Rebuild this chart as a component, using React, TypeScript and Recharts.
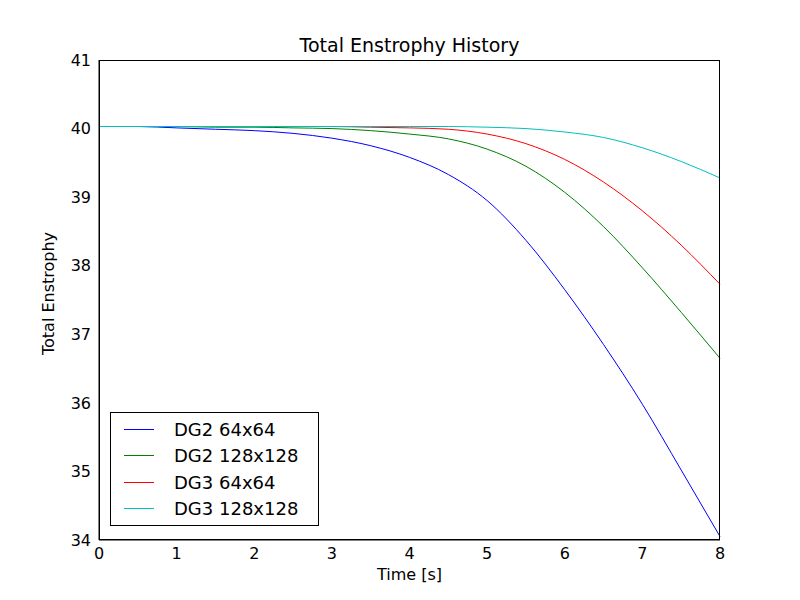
import { LineChart, Line, XAxis, YAxis } from 'recharts';

const times = [0, 0.5, 1, 1.5, 2, 2.5, 3, 3.5, 4, 4.5, 5, 5.5, 6, 6.5, 7, 7.5, 8];
const dg2_64 = [40.03, 40.03, 40.01, 39.99, 39.97, 39.93, 39.86, 39.75, 39.58, 39.33, 38.95, 38.37, 37.65, 36.85, 35.98, 35.02, 34.05];
const dg2_128 = [40.03, 40.03, 40.03, 40.02, 40.02, 40.01, 40.0, 39.97, 39.92, 39.85, 39.7, 39.45, 39.07, 38.57, 37.97, 37.32, 36.65];
const dg3_64 = [40.03, 40.03, 40.03, 40.03, 40.03, 40.03, 40.03, 40.02, 40.01, 39.99, 39.92, 39.78, 39.55, 39.22, 38.8, 38.3, 37.73];
const dg3_128 = [40.03, 40.03, 40.03, 40.03, 40.03, 40.03, 40.03, 40.03, 40.03, 40.03, 40.02, 40.0, 39.95, 39.87, 39.72, 39.52, 39.28];
const xTicks = [0, 1, 2, 3, 4, 5, 6, 7, 8];
const yTicks = [34, 35, 36, 37, 38, 39, 40, 41];

const series = [
  { key: 'a', name: 'DG2 64x64', color: '#0000ff' },
  { key: 'b', name: 'DG2 128x128', color: '#008000' },
  { key: 'c', name: 'DG3 64x64', color: '#ff0000' },
  { key: 'd', name: 'DG3 128x128', color: '#00bfbf' },
];

const data = times.map((t, i) => ({ t, a: dg2_64[i], b: dg2_128[i], c: dg3_64[i], d: dg3_128[i] }));

const font = 'DejaVu Sans, sans-serif';

function LegendBox() {
  return (
    <div style={{ position: 'absolute', left: 110, top: 412, border: '1px solid #000', background: '#fff', width: 207, padding: '3px 0', fontFamily: font, fontSize: 18 }}>
      {series.map((s) => (
        <div key={s.key} style={{ display: 'flex', alignItems: 'center', height: 26.5 }}>
          <div style={{ width: 30, height: 0, borderTop: `1px solid ${s.color}`, margin: '0 20px 0 13px' }} />
          <span>{s.name}</span>
        </div>
      ))}
    </div>
  );
}

export default function App() {
  const tick = { fill: '#000', fontSize: 16, fontFamily: font };
  return (
    <div style={{ margin: -8, width: 800, height: 600, background: '#fff', position: 'relative' }}>
      <div style={{ position: 'absolute', top: 34, left: 99, width: 621, textAlign: 'center', fontFamily: font, fontSize: 19 }}>
        Total Enstrophy History
      </div>
      <LineChart width={800} height={600} data={data} margin={{ top: 60, right: 80, bottom: 0, left: 0 }}>
        <XAxis dataKey="t" type="number" domain={[0, 8]} ticks={xTicks} tick={tick} tickLine={false} axisLine={{ stroke: '#000' }} height={60}
          label={{ value: 'Time [s]', position: 'insideBottom', offset: 20, fill: '#000', fontSize: 16, fontFamily: font }} />
        <YAxis domain={[34, 41]} ticks={yTicks} tick={tick} tickLine={false} axisLine={{ stroke: '#000' }} width={99}
          label={{ value: 'Total Enstrophy', angle: -90, position: 'insideLeft', offset: 48, dy: 55, fill: '#000', fontSize: 16, fontFamily: font }} />
        {series.map((s) => (
          <Line key={s.key} dataKey={s.key} name={s.name} stroke={s.color} strokeWidth={1} dot={false} type="monotone" isAnimationActive={false} />
        ))}
      </LineChart>
      <div style={{ position: 'absolute', left: 99, top: 60, width: 621, height: 480, border: '1px solid #000', boxSizing: 'border-box', pointerEvents: 'none' }} />
      <LegendBox />
    </div>
  );
}
